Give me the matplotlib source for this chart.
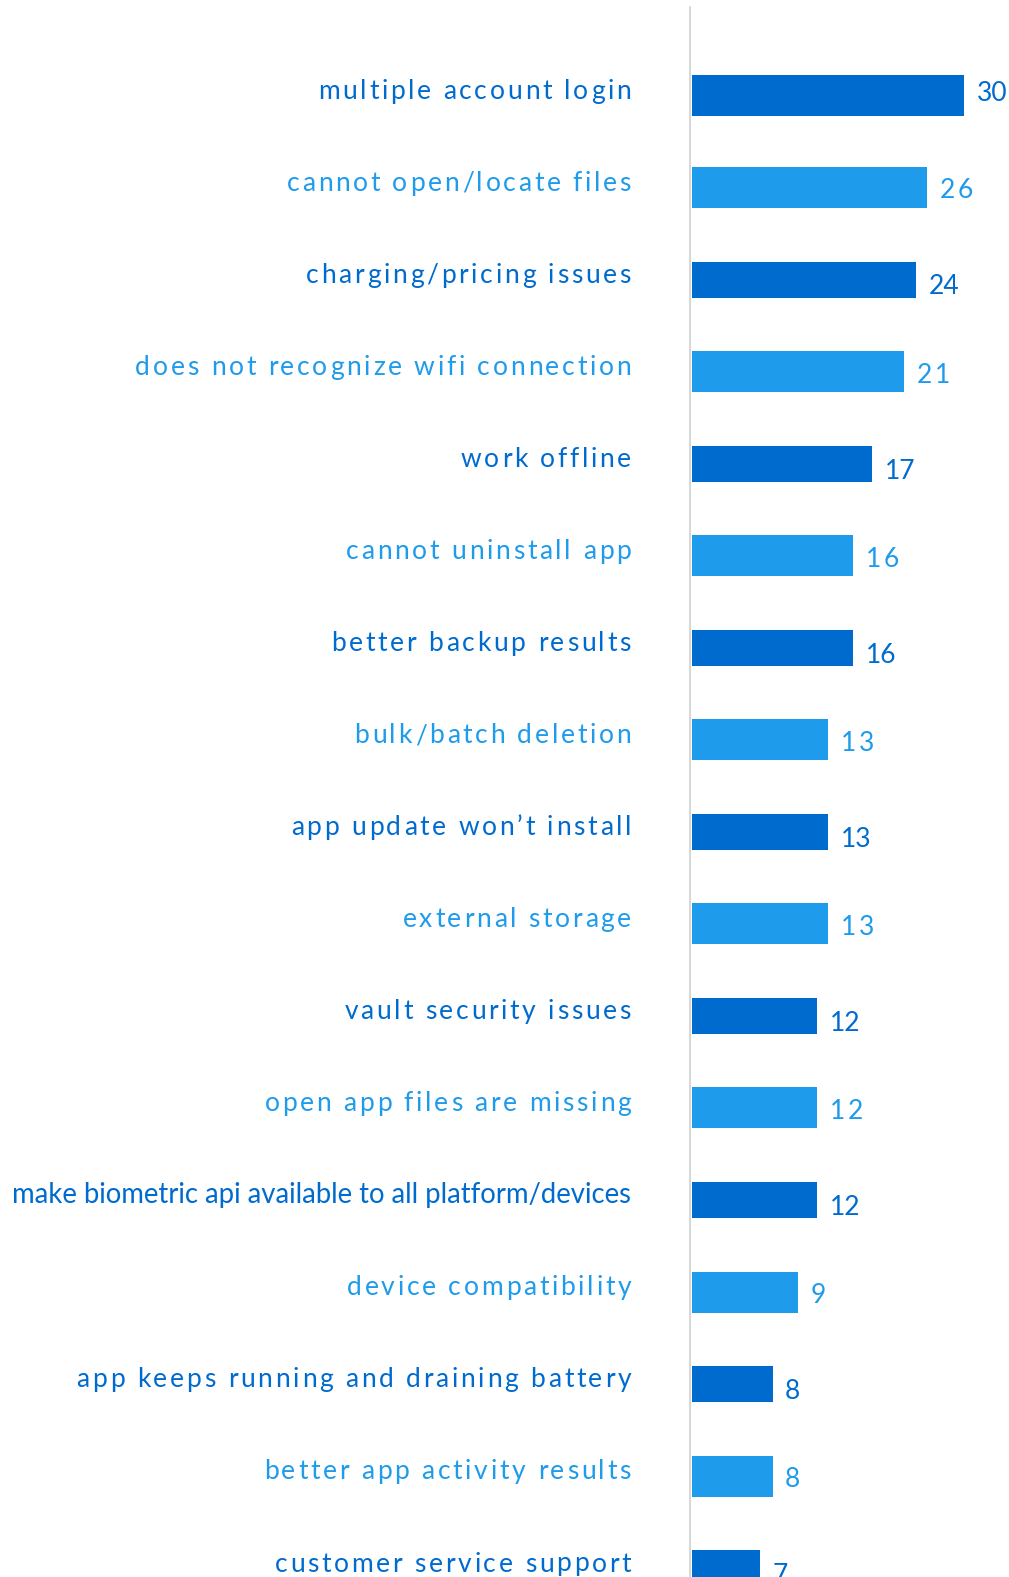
import matplotlib
matplotlib.use("Agg")
import matplotlib.pyplot as plt
from matplotlib import font_manager
from matplotlib.ft2font import FT2Font
from matplotlib.transforms import blended_transform_factory, ScaledTranslation

# ---------------- data ----------------
categories = [
    "multiple account login",
    "cannot open/locate files",
    "charging/pricing issues",
    "does not recognize wifi connection",
    "work offline",
    "cannot uninstall app",
    "better backup results",
    "bulk/batch deletion",
    "app update won\u2019t install",
    "external storage",
    "vault security issues",
    "open app files are missing",
    "make biometric api available to all platform/devices",
    "device compatibility",
    "app keeps running and draining battery",
    "better app activity results",
    "customer service support",
]
value_labels = [30, 26, 24, 21, 17, 16, 16, 13, 13, 13, 12, 12, 12, 9, 8, 8, 7]
# bar lengths as drawn in the picture (same scale as the value 30 bar)
bar_lengths = [30.0, 25.9, 24.7, 23.4, 19.9, 17.8, 17.8, 15.0, 15.0, 15.0,
               13.8, 13.8, 13.8, 11.7, 8.9, 8.9, 7.5]
tones = ["first", "light", "dark", "light", "dark", "light", "dark", "light", "dark",
         "light", "dark", "light", "dark", "light", "dark", "light", "dark"]
spaced_label = [True] * 17
spaced_label[12] = False

# ---------------- style ----------------
DARK = "#006BCE"
LIGHT = "#1E9BEB"
AXIS_GRAY = "#CBCBCB"
W_PX, H_PX, DPI = 1009, 1577, 100
FONT = "Lato"
LABEL_PT = 19
PLAIN_LABEL_PT = 19.8
VALUE_PT = 19

fig = plt.figure(figsize=(W_PX / DPI, H_PX / DPI), dpi=DPI)
fig.patch.set_facecolor("white")

ax_left_px = 692
ax_top_px = 7
px_per_unit = 9.067
row0_px = 95.4
pitch_px = 92.05

ax = fig.add_axes([ax_left_px / W_PX, 0, (W_PX - ax_left_px) / W_PX, (H_PX - ax_top_px) / H_PX])
ax.set_xlim(0, (W_PX - ax_left_px) / px_per_unit)
ax.set_ylim((H_PX - row0_px) / pitch_px, -(row0_px - ax_top_px) / pitch_px)

style = {
    "first": dict(color=DARK, height=41 / pitch_px, vdy=5.5, spaced=False),
    "dark": dict(color=DARK, height=36 / pitch_px, vdy=15.0, spaced=False),
    "light": dict(color=LIGHT, height=41 / pitch_px, vdy=11.0, spaced=True),
}

ys = list(range(len(categories)))
ax.barh(ys, bar_lengths,
        height=[style[t]["height"] for t in tones],
        color=[style[t]["color"] for t in tones], linewidth=0)

for s in ["top", "right", "bottom"]:
    ax.spines[s].set_visible(False)
ax.spines["left"].set_color(AXIS_GRAY)
ax.spines["left"].set_linewidth(1.1)
ax.spines["left"].set_position(("outward", 1.1))
ax.set_xticks([])
ax.set_yticks([])

# ---------------- letter-spaced text helper ----------------
fpath = font_manager.findfont(font_manager.FontProperties(family=FONT))
ft = FT2Font(fpath)


def advances(text, size_pt):
    ft.set_size(size_pt, DPI)
    return [ft.load_char(ord(c)).linearHoriAdvance / 65536.0 for c in text]


# calibrate letter spacing so that the reference label width matches
_ref = "multiple account login"
_adv = advances(_ref, LABEL_PT)
SPACING = (313.0 - sum(_adv)) / (len(_ref) - 1)


def draw_text(base_tr, x, y, text, dx_px, dy_px, color, size_pt, spaced, ha):
    if not spaced:
        tr = base_tr + ScaledTranslation(dx_px / DPI, -dy_px / DPI, fig.dpi_scale_trans)
        ax.text(x, y, text, transform=tr, ha=ha, va="baseline", color=color,
                fontsize=size_pt, family=FONT, clip_on=False)
        return
    adv = advances(text, size_pt)
    total = sum(adv) + SPACING * (len(text) - 1)
    cur = dx_px - total if ha == "right" else dx_px
    for c, a in zip(text, adv):
        if c != " ":
            tr = base_tr + ScaledTranslation(cur / DPI, -dy_px / DPI, fig.dpi_scale_trans)
            ax.text(x, y, c, transform=tr, ha="left", va="baseline", color=color,
                    fontsize=size_pt, family=FONT, clip_on=False)
        cur += a + SPACING


label_tr = blended_transform_factory(ax.transAxes, ax.transData)
label_right_dx = 631 - ax_left_px

for i, (cat, val, length, t) in enumerate(zip(categories, value_labels, bar_lengths, tones)):
    st = style[t]
    size = LABEL_PT if spaced_label[i] else PLAIN_LABEL_PT
    draw_text(label_tr, 0, i, cat, label_right_dx, 3.3, st["color"], size,
              spaced_label[i], "right")
    draw_text(ax.transData, length, i, str(val), 12.5, st["vdy"], st["color"], VALUE_PT,
              st["spaced"], "left")

fig.savefig("out.png", dpi=DPI, facecolor="white")
